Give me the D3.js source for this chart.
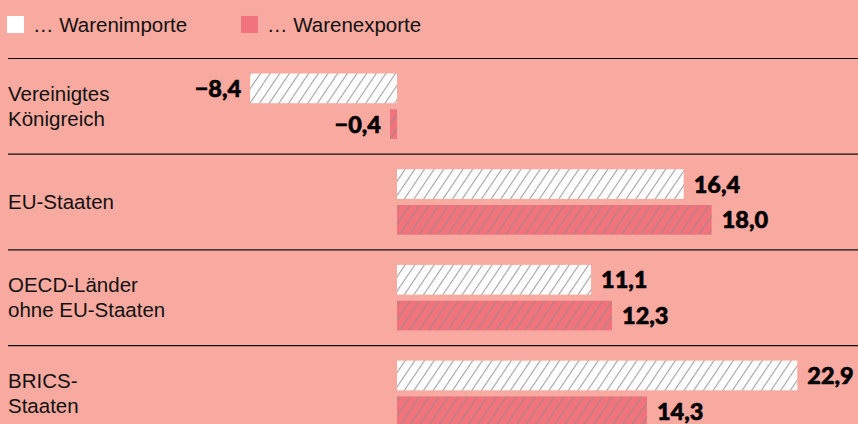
<!DOCTYPE html>
<html>
<head>
<meta charset="utf-8">
<script src="https://cdn.jsdelivr.net/npm/d3@7"></script>
<style>
  body { margin: 0; background: #f9aaa0; }
  svg { display: block; font-family: "Source Sans Pro", "Liberation Sans", sans-serif; }
</style>
</head>
<body>
<script>
const width = 858;
const height = 424;

const categories = [["Vereinigtes", "Königreich"], ["EU-Staaten"], ["OECD-Länder", "ohne EU-Staaten"], ["BRICS-", "Staaten"]];
const series = ["… Warenimporte", "… Warenexporte"];
const imports = [-8.4, 16.4, 11.1, 22.9];
const exports = [-0.4, 18.0, 12.3, 14.3];

const colors = ["#ffffff", "#f1737b"];

let svg = d3.select("body").append("svg")
	.attr("width", width)
	.attr("height", height);

let defs = svg.append("defs");
colors.forEach((c, i) => {
	let p = defs.append("pattern")
		.attr("id", "hatch" + i)
		.attr("patternUnits", "userSpaceOnUse")
		.attr("width", 8)
		.attr("height", 8)
		.attr("patternTransform", "rotate(34)");
	p.append("rect").attr("width", 8).attr("height", 8).attr("fill", c);
	p.append("line")
		.attr("x1", 0.6).attr("y1", 0).attr("x2", 0.6).attr("y2", 8)
		.attr("stroke", i == 0 ? "#9a9a9a" : "#a2868a")
		.attr("stroke-width", 1);
});

// legend
let legend = svg.append("g");
series.forEach((s, i) => {
	let lx = i == 0 ? 7 : 241;
	legend.append("rect")
		.attr("x", lx).attr("y", 16)
		.attr("width", 17).attr("height", 17)
		.attr("fill", colors[i]);
	legend.append("text")
		.attr("x", lx + 26).attr("y", 32)
		.style("font-size", "20.5px")
		.attr("fill", "#111")
		.text(s);
});

let x = d3.scaleLinear().domain([0, 10]).range([397, 397 + 174.8]);

let y = d3.scaleBand()
	.domain(d3.range(categories.length))
	.range([58, 58 + 95.7 * 4])
	.paddingInner(0);

let sub = d3.scaleBand()
	.domain([0, 1])
	.range([15.5, 81])
	.paddingInner(0.17);

let groups = svg.selectAll(".group")
	.data(categories)
	.enter()
	.append("g")
	.attr("class", "group")
	.attr("transform", (d, i) => `translate(0,${y(i)})`);

groups.append("line")
	.attr("x1", 8).attr("x2", width)
	.attr("y1", 0.5).attr("y2", 0.5)
	.attr("stroke", "#111")
	.attr("stroke-width", 1.2);

groups.each(function(lines, i) {
	let g = d3.select(this);
	let n = lines.length;
	let mid = sub(0) + (sub(1) + sub.bandwidth() - sub(0)) / 2;
	let lineH = 25;
	lines.forEach((t, j) => {
		g.append("text")
			.attr("x", 8)
			.attr("y", mid + 7 + (j - (n - 1) / 2) * lineH)
			.style("font-size", "20.5px")
			.attr("fill", "#111")
			.text(t);
	});

	[imports[i], exports[i]].forEach((v, k) => {
		let x0 = x(Math.min(0, v));
		let x1 = x(Math.max(0, v));
		g.append("rect")
			.attr("x", x0)
			.attr("y", sub(k))
			.attr("width", x1 - x0)
			.attr("height", sub.bandwidth())
			.attr("fill", `url(#hatch${k})`);
		g.append("text")
			.attr("x", v < 0 ? x0 - 9 : x1 + 10)
			.attr("y", sub(k) + sub.bandwidth() / 2 + 8.5)
			.attr("text-anchor", v < 0 ? "end" : "start")
			.style("font-family", "Lato, sans-serif")
			.style("font-size", "23.5px")
			.style("font-weight", "900")
			.attr("fill", "#000")
			.attr("stroke", "#000")
			.attr("stroke-width", 0.6)
			.text(d3.format(".1f")(v).replace("-", "–").replace(".", ","));
	});
});
</script>
</body>
</html>
